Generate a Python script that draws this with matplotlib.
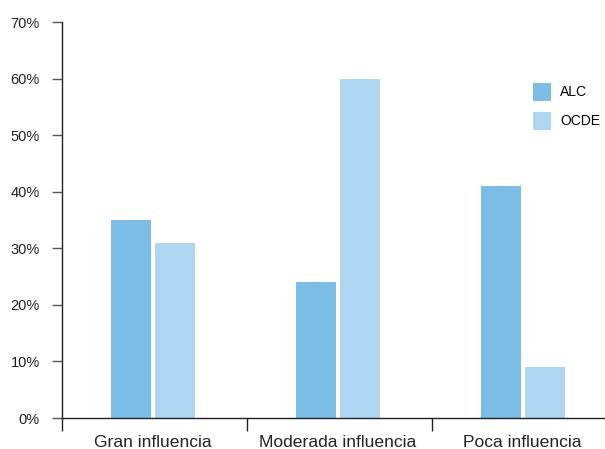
import numpy as np
import matplotlib.pyplot as plt
from matplotlib.ticker import FixedLocator, PercentFormatter

categories = ['Gran influencia', 'Moderada influencia', 'Poca influencia']
alc = [35, 24, 41]
ocde = [31, 60, 9]
series_names = ['ALC', 'OCDE']
colors = ['#7BBDE7', '#AED6F1']

plt.rcParams['font.family'] = ['Liberation Sans', 'DejaVu Sans']

fig = plt.figure(figsize=(6.05, 4.49), dpi=100)
ax = fig.add_axes([62 / 605, 31 / 449, 555 / 605, 396 / 449])

# grouped bars, pair centred in each category slot
x = np.arange(len(categories)) + 0.49
w = 40 / 185
gap = 4 / 185
ax.bar(x - (w + gap) / 2, alc, w, color=colors[0], label=series_names[0])
ax.bar(x + (w + gap) / 2, ocde, w, color=colors[1], label=series_names[1])

ax.set_xlim(0, 3)
ax.set_ylim(0, 70)
ax.set_yticks(range(0, 71, 10))
ax.yaxis.set_major_formatter(PercentFormatter(decimals=0))
ax.tick_params(axis='y', length=7, width=1, color='#555555', labelsize=10.5, labelcolor='#222222', pad=9)

ax.set_xticks(x)
ax.set_xticklabels(categories)
ax.xaxis.set_minor_locator(FixedLocator([0, 1, 2, 3]))
ax.tick_params(axis='x', which='major', length=0, labelsize=12.6, labelcolor='#222222', pad=12)
ax.tick_params(axis='x', which='minor', length=9, width=1, color='#222222')

for s in ['top', 'right']:
    ax.spines[s].set_visible(False)
for s in ['left', 'bottom']:
    ax.spines[s].set_linewidth(1)
    ax.spines[s].set_color('#222222')

ax.legend(loc='upper left', bbox_to_anchor=(533 / 605, 1 - 83 / 449),
          bbox_transform=fig.transFigure, frameon=False, borderpad=0,
          fontsize=10, handlelength=1.3, handleheight=1.6, handletextpad=0.65,
          labelspacing=0.8, borderaxespad=0)

fig.savefig('out.png', dpi=100)
